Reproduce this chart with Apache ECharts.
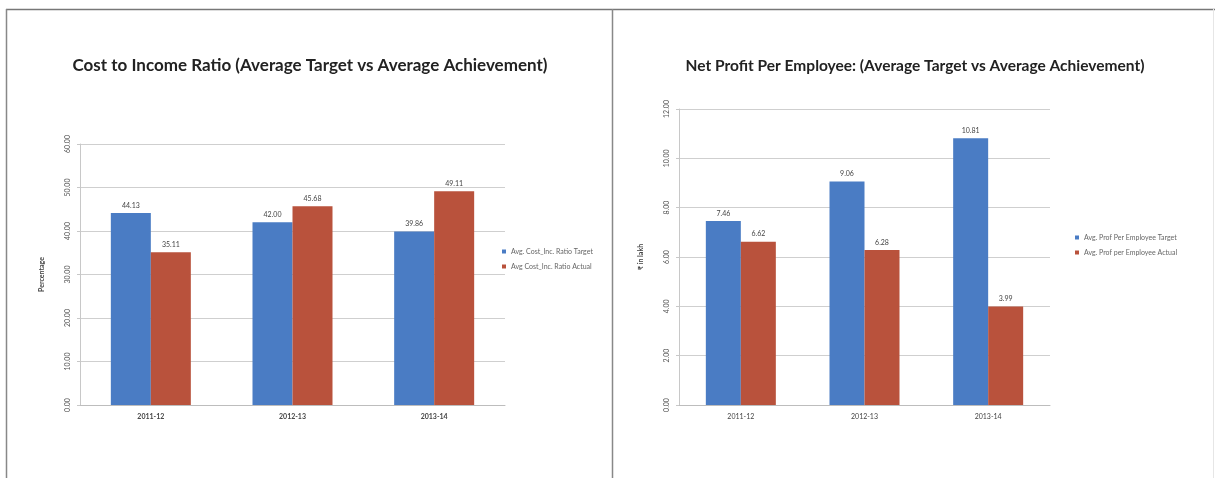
<!DOCTYPE html>
<html>
<head>
<meta charset="utf-8">
<script src="https://cdn.jsdelivr.net/npm/echarts@6/dist/echarts.min.js"></script>
<style>
  html, body { margin: 0; padding: 0; background: #fff; }
  #chart { width: 1215px; height: 478px; }
</style>
</head>
<body>
<div id="chart"></div>
<script>
// Fiscal years shared by both panels
const years = ['2011-12', '2012-13', '2013-14'];

// Cost to income ratio (%)
const costIncomeTarget = [44.13, 42.00, 39.86];
const costIncomeActual = [35.11, 45.68, 49.11];

// Net profit per employee (₹ in lakh)
const profitTarget = [7.46, 9.06, 10.81];
const profitActual = [6.62, 6.28, 3.99];

const leftTitle = 'Cost to Income Ratio (Average Target vs Average Achievement)';
const rightTitle = 'Net Profit Per Employee: (Average Target vs Average Achievement)';
const leftNames = ['Avg. Cost_Inc. Ratio Target', 'Avg Cost_Inc. Ratio Actual'];
const rightNames = ['Avg. Prof Per Employee Target', 'Avg. Prof per Employee Actual'];
const leftAxisName = 'Percentage';
const rightAxisName = '₹ in lakh';

const BLUE = '#4a7cc4';
const RED = '#b9523c';
const FONT = 'Lato, "Open Sans", sans-serif';

function valueAxis(gridIndex, max, interval, name) {
  return {
    type: 'value', gridIndex, min: 0, max, interval,
    name, nameLocation: 'middle', nameGap: 35,
    nameTextStyle: { fontSize: 7, fontWeight: 'bold', color: '#444', fontFamily: FONT },
    axisLine: { show: true, lineStyle: { color: '#c8c8c8' } },
    axisTick: { show: true, length: 3, lineStyle: { color: '#c8c8c8' } },
    axisLabel: {
      rotate: 90, fontSize: 7, color: '#555', fontFamily: FONT, margin: 9,
      formatter: v => v.toFixed(2)
    },
    splitLine: { lineStyle: { color: '#cfcfcf' } }
  };
}

function categoryAxis(gridIndex, bold) {
  return {
    type: 'category', gridIndex, data: years,
    axisLine: { lineStyle: { color: '#bdbdbd' } },
    axisTick: { show: false },
    axisLabel: { fontSize: 7, color: '#444', fontWeight: bold ? 'bold' : 'normal', fontFamily: FONT, margin: 8 }
  };
}

function barSeries(name, data, color, axisIdx, width) {
  return {
    name, type: 'bar', data, xAxisIndex: axisIdx, yAxisIndex: axisIdx,
    barWidth: width, barGap: '0%',
    itemStyle: { color },
    label: {
      show: true, position: 'top', distance: 4, fontSize: 7, color: '#444', fontFamily: FONT,
      formatter: p => p.value.toFixed(2)
    }
  };
}

const chart = echarts.init(document.getElementById('chart'), null, { renderer: 'canvas' });
chart.setOption({
  backgroundColor: '#fff',
  animation: false,
  title: [
    { text: leftTitle, left: 305, top: 52, textAlign: 'center',
      textStyle: { fontSize: 17, fontWeight: 'bold', color: '#222', fontFamily: FONT } },
    { text: rightTitle, left: 910, top: 53, textAlign: 'center',
      textStyle: { fontSize: 15.5, fontWeight: 'bold', color: '#222', fontFamily: FONT } }
  ],
  legend: [
    { data: leftNames, orient: 'vertical', left: 497, top: 243, itemWidth: 4, itemHeight: 4, itemGap: 8,
      icon: 'rect', textStyle: { fontSize: 7, color: '#666', fontFamily: FONT } },
    { data: rightNames, orient: 'vertical', left: 1070, top: 229, itemWidth: 4, itemHeight: 4, itemGap: 8,
      icon: 'rect', textStyle: { fontSize: 7, color: '#666', fontFamily: FONT } }
  ],
  grid: [
    { left: 80, top: 144, width: 425, height: 261 },
    { left: 679, top: 109, width: 371, height: 296 }
  ],
  xAxis: [categoryAxis(0, true), categoryAxis(1, false)],
  yAxis: [valueAxis(0, 60, 10, leftAxisName), valueAxis(1, 12, 2, rightAxisName)],
  series: [
    barSeries(leftNames[0], costIncomeTarget, BLUE, 0, 40),
    barSeries(leftNames[1], costIncomeActual, RED, 0, 40),
    barSeries(rightNames[0], profitTarget, BLUE, 1, 35),
    barSeries(rightNames[1], profitActual, RED, 1, 35)
  ],
  graphic: [
    // panel frames
    { type: 'line', shape: { x1: 6, y1: 9.5, x2: 1215, y2: 9.5 }, style: { stroke: '#777', lineWidth: 1.5 } },
    { type: 'line', shape: { x1: 6.5, y1: 9, x2: 6.5, y2: 478 }, style: { stroke: '#888', lineWidth: 1.5 } },
    { type: 'line', shape: { x1: 612.5, y1: 9, x2: 612.5, y2: 478 }, style: { stroke: '#888', lineWidth: 1.5 } },
    { type: 'line', shape: { x1: 1213.5, y1: 9, x2: 1213.5, y2: 478 }, style: { stroke: '#e6e6e6', lineWidth: 1 } }
  ]
});
</script>
</body>
</html>
